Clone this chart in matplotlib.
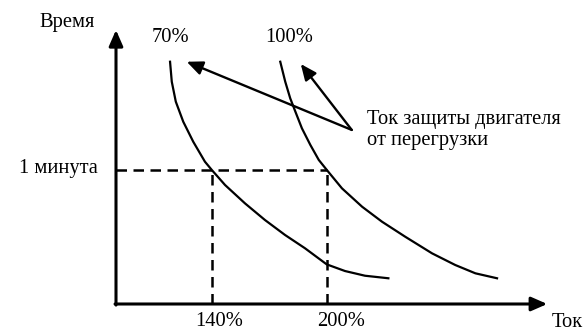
import matplotlib
matplotlib.use("Agg")
import matplotlib.pyplot as plt

plt.rcParams["font.family"] = ["Liberation Serif", "DejaVu Serif"]

# ток, % от номинального / время, минуты
curve_70_x = [118.2, 119.1, 121.2, 125.1, 130.3, 136.4, 140.0, 146.9, 157.3,
              167.7, 178.2, 188.6, 199.9, 209.5, 219.9, 232.1]
curve_70_t = [1.808, 1.659, 1.510, 1.360, 1.211, 1.062, 1.000, 0.888, 0.751,
              0.627, 0.515, 0.416, 0.296, 0.246, 0.211, 0.192]
curve_100_x = [175.7, 178.3, 180.9, 183.6, 187.0, 191.4, 195.8, 200.0, 207.9,
               218.4, 228.8, 240.9, 254.9, 267.0, 277.5, 288.8]
curve_100_t = [1.808, 1.659, 1.535, 1.435, 1.311, 1.187, 1.075, 1.000, 0.863,
               0.726, 0.614, 0.502, 0.378, 0.291, 0.229, 0.192]

curve_labels = ["70%", "100%"]
ref_currents = [140, 200]
ref_labels = ["140%", "200%"]
ref_time = 1.0

x_min, x_max = 90, 315
t_min, t_max = 0, 2.045

fig = plt.figure(figsize=(5.84, 3.31), dpi=100)
ax = fig.add_axes([0, 0, 1, 1])
ax.set_xlim(29.48, 334.17)
ax.set_ylim(-0.2015, 2.2687)
ax.axis("off")

fs = 14.8
lw_axis = 2.2

# оси со стрелками
head = "-|>,head_length=0.8,head_width=0.35"
ax.annotate("", xy=(x_min, t_max), xytext=(x_min, t_min - 0.008),
            arrowprops=dict(arrowstyle=head, lw=lw_axis, color="black",
                            mutation_scale=12, shrinkA=0, shrinkB=0))
ax.annotate("", xy=(x_max, t_min), xytext=(x_min - 0.5, t_min),
            arrowprops=dict(arrowstyle=head, lw=lw_axis, color="black",
                            mutation_scale=12, shrinkA=0, shrinkB=0))

# пунктир
dash = dict(color="black", lw=1.8, dashes=(4.2, 2.6))
ax.plot([x_min, ref_currents[1]], [ref_time, ref_time], **dash)
for c in ref_currents:
    ax.plot([c, c], [t_min, ref_time], **dash)

# кривые
ax.plot(curve_70_x, curve_70_t, color="black", lw=1.6, solid_joinstyle="round")
ax.plot(curve_100_x, curve_100_t, color="black", lw=1.6, solid_joinstyle="round")

# подписи
ax.text(50.0, 2.065, "Время", fontsize=fs, ha="left", va="baseline")
ax.text(108.6, 1.958, curve_labels[0], fontsize=fs, ha="left", va="baseline")
ax.text(167.7, 1.958, curve_labels[1], fontsize=fs, ha="left", va="baseline")
ax.text(80.6, 0.978, "1 минута", fontsize=fs, ha="right", va="baseline")
ax.text(131.2, -0.164, ref_labels[0], fontsize=fs, ha="left", va="baseline")
ax.text(194.7, -0.164, ref_labels[1], fontsize=fs, ha="left", va="baseline")
ax.text(317.5, -0.172, "Ток", fontsize=fs, ha="left", va="baseline")

# указатели
src = (213.0, 1.299)
for tip in [(126.9, 1.808), (186.4, 1.791)]:
    ax.annotate("", xy=tip, xytext=src,
                arrowprops=dict(arrowstyle=head, lw=1.7, color="black",
                                mutation_scale=12, shrinkA=0, shrinkB=0))
ax.text(221.0, 1.343, "Ток защиты двигателя", fontsize=fs, ha="left", va="baseline")
ax.text(221.0, 1.187, "от перегрузки", fontsize=fs, ha="left", va="baseline")

fig.savefig("out.png", dpi=100)
